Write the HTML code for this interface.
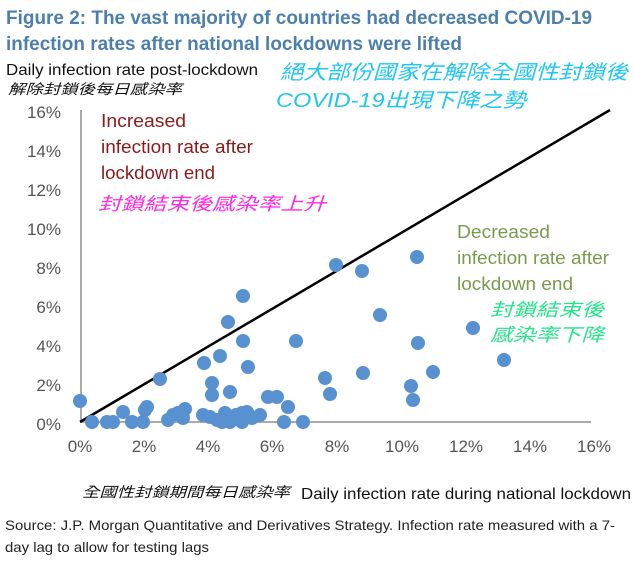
<!DOCTYPE html>
<html><head><meta charset="utf-8"><style>
html,body{margin:0;padding:0;background:#fff;width:634px;height:562px;overflow:hidden}
svg{display:block}
text{font-family:"Liberation Sans","Noto Sans CJK TC",sans-serif}
</style></head><body>
<svg width="634" height="562" viewBox="0 0 634 562" xmlns="http://www.w3.org/2000/svg">
<text x="6" y="24" font-size="19" font-weight="bold" fill="#4c7fab" textLength="586" lengthAdjust="spacingAndGlyphs">Figure 2: The vast majority of countries had decreased COVID-19</text>
<text x="6" y="50" font-size="19" font-weight="bold" fill="#4c7fab" textLength="456" lengthAdjust="spacingAndGlyphs">infection rates after national lockdowns were lifted</text>
<text x="6" y="75" font-size="16" fill="#111" textLength="252" lengthAdjust="spacingAndGlyphs">Daily infection rate post-lockdown</text>
<text x="8" y="94" font-size="14" fill="#111" font-style="italic" textLength="174" lengthAdjust="spacingAndGlyphs">解除封鎖後每日感染率</text>
<text x="280" y="79" font-size="20" fill="#1fc6f0" font-style="italic" textLength="348" lengthAdjust="spacingAndGlyphs">絕大部份國家在解除全國性封鎖後</text>
<text x="276" y="107" font-size="20" fill="#1fc6f0" font-style="italic" textLength="250" lengthAdjust="spacingAndGlyphs">COVID-19出現下降之勢</text>
<g font-size="17" fill="#555" text-anchor="end">
<text x="61" y="118">16%</text><text x="61" y="157">14%</text><text x="61" y="196">12%</text><text x="61" y="235">10%</text>
<text x="61" y="274">8%</text><text x="61" y="313">6%</text><text x="61" y="352">4%</text><text x="61" y="391">2%</text><text x="61" y="430">0%</text>
</g>
<g font-size="17" fill="#555" text-anchor="middle">
<text x="80" y="452">0%</text><text x="144" y="452">2%</text><text x="208" y="452">4%</text><text x="272" y="452">6%</text>
<text x="337" y="452">8%</text><text x="402" y="452">10%</text><text x="466" y="452">12%</text><text x="530" y="452">14%</text><text x="594" y="452">16%</text>
</g>
<line x1="81" y1="110" x2="81" y2="422" stroke="#aaa" stroke-width="2"/>
<line x1="80" y1="422" x2="591" y2="422" stroke="#aaa" stroke-width="2"/>
<line x1="80" y1="422" x2="610" y2="110" stroke="#000" stroke-width="2.5"/>
<g fill="#8b1a1a" font-size="18">
<text x="101" y="127" textLength="85" lengthAdjust="spacingAndGlyphs">Increased</text>
<text x="101" y="153" textLength="152" lengthAdjust="spacingAndGlyphs">infection rate after</text>
<text x="101" y="179" textLength="114" lengthAdjust="spacingAndGlyphs">lockdown end</text>
</g>
<text x="98" y="210" font-size="18" fill="#ff28e6" font-style="italic" textLength="228" lengthAdjust="spacingAndGlyphs">封鎖結束後感染率上升</text>
<g fill="#7a9a4c" font-size="18">
<text x="457" y="238" textLength="93" lengthAdjust="spacingAndGlyphs">Decreased</text>
<text x="457" y="264" textLength="152" lengthAdjust="spacingAndGlyphs">infection rate after</text>
<text x="457" y="290" textLength="116" lengthAdjust="spacingAndGlyphs">lockdown end</text>
</g>
<text x="490" y="316" font-size="18" fill="#22e58a" font-style="italic" textLength="114" lengthAdjust="spacingAndGlyphs">封鎖結束後</text>
<text x="490" y="341" font-size="18" fill="#22e58a" font-style="italic" textLength="114" lengthAdjust="spacingAndGlyphs">感染率下降</text>
<g fill="#5891cf">
<circle cx="80" cy="401" r="7"/><circle cx="92" cy="422" r="7"/><circle cx="107" cy="422" r="7"/><circle cx="113" cy="422" r="7"/>
<circle cx="123" cy="412" r="7"/><circle cx="132" cy="422" r="7"/><circle cx="143" cy="422" r="7"/><circle cx="145" cy="410" r="7"/>
<circle cx="147" cy="407" r="7"/><circle cx="160" cy="379" r="7"/><circle cx="168" cy="420" r="7"/><circle cx="173" cy="415" r="7"/>
<circle cx="178" cy="413" r="7"/><circle cx="185" cy="409" r="7"/><circle cx="183" cy="418" r="7"/><circle cx="203" cy="415" r="7"/>
<circle cx="204" cy="363" r="7"/><circle cx="212" cy="383" r="7"/><circle cx="212" cy="395" r="7"/><circle cx="220" cy="356" r="7"/>
<circle cx="210" cy="417" r="7"/><circle cx="217" cy="420" r="7"/><circle cx="225" cy="413" r="7"/><circle cx="228" cy="322" r="7"/>
<circle cx="230" cy="392" r="7"/><circle cx="233" cy="417" r="7"/><circle cx="243" cy="296" r="7"/><circle cx="243" cy="341" r="7"/>
<circle cx="248" cy="367" r="7"/><circle cx="242" cy="413" r="7"/><circle cx="247" cy="412" r="7"/><circle cx="242" cy="422" r="7"/>
<circle cx="222" cy="422" r="7"/><circle cx="230" cy="422" r="7"/><circle cx="236" cy="415" r="7"/><circle cx="252" cy="418" r="7"/>
<circle cx="260" cy="415" r="7"/><circle cx="268" cy="397" r="7"/><circle cx="277" cy="397" r="7"/><circle cx="288" cy="407" r="7"/>
<circle cx="284" cy="422" r="7"/><circle cx="303" cy="422" r="7"/><circle cx="296" cy="341" r="7"/><circle cx="325" cy="378" r="7"/>
<circle cx="330" cy="394" r="7"/><circle cx="336" cy="265" r="7"/><circle cx="417" cy="257" r="7"/><circle cx="362" cy="271" r="7"/>
<circle cx="380" cy="315" r="7"/><circle cx="473" cy="328" r="7"/><circle cx="504" cy="360" r="7"/><circle cx="418" cy="343" r="7"/>
<circle cx="433" cy="372" r="7"/><circle cx="363" cy="373" r="7"/><circle cx="411" cy="386" r="7"/><circle cx="413" cy="400" r="7"/>
</g>
<text x="82" y="497" font-size="14" fill="#111" font-style="italic" textLength="208" lengthAdjust="spacingAndGlyphs">全國性封鎖期間每日感染率</text>
<text x="301" y="499" font-size="16" fill="#111" textLength="330" lengthAdjust="spacingAndGlyphs">Daily infection rate during national lockdown</text>
<text x="5" y="530" font-size="14" fill="#222" textLength="610" lengthAdjust="spacingAndGlyphs">Source: J.P. Morgan Quantitative and Derivatives Strategy. Infection rate measured with a 7-</text>
<text x="5" y="552" font-size="14" fill="#222" textLength="204" lengthAdjust="spacingAndGlyphs">day lag to allow for testing lags</text>
</svg>
</body></html>
